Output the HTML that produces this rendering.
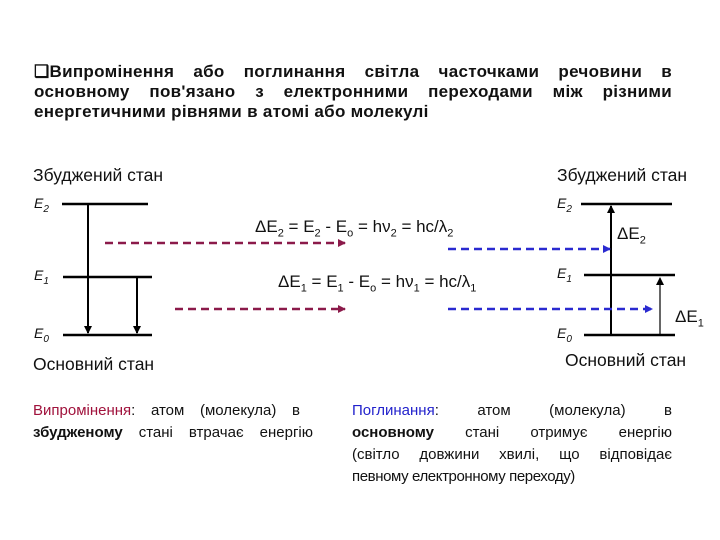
<!DOCTYPE html>
<html><head><meta charset="utf-8"><style>
body{margin:0;width:720px;height:540px;background:#fff;position:relative;overflow:hidden;font-family:"Liberation Sans",Arial,sans-serif;color:#111}
.a{position:absolute;white-space:nowrap}
.j{position:absolute;text-align:justify;text-align-last:justify;white-space:nowrap;overflow:visible}
.hd{font-weight:bold;font-size:17px;letter-spacing:0.3px;left:34px;width:638px;height:20px;line-height:20px}
.bt{font-size:15px;height:22px;line-height:22px}
.e{font-style:italic;font-size:14px}
.f{font-size:17px}
.f sub{font-size:11px}
</style></head><body>
<div class="j hd" style="top:62px">❑Випромінення або поглинання світла часточками речовини в</div>
<div class="j hd" style="top:82px">основному пов'язано з електронними переходами між різними</div>
<div class="a hd" style="top:102px;width:auto">енергетичними рівнями в атомі або молекулі</div>

<div class="a" style="left:33px;top:165px;font-size:17.5px">Збуджений стан</div>
<div class="a" style="left:557px;top:165px;font-size:17.5px">Збуджений стан</div>
<div class="a" style="left:33px;top:354px;font-size:17.5px">Основний стан</div>
<div class="a" style="left:565px;top:350px;font-size:17.5px">Основний стан</div>

<div class="a e" style="left:34px;top:195px">E<sub style="font-size:10px">2</sub></div>
<div class="a e" style="left:34px;top:267px">E<sub style="font-size:10px">1</sub></div>
<div class="a e" style="left:34px;top:325px">E<sub style="font-size:10px">0</sub></div>
<div class="a e" style="left:557px;top:195px">E<sub style="font-size:10px">2</sub></div>
<div class="a e" style="left:557px;top:265px">E<sub style="font-size:10px">1</sub></div>
<div class="a e" style="left:557px;top:325px">E<sub style="font-size:10px">0</sub></div>

<div class="a f" style="left:255px;top:217px">ΔE<sub>2</sub> = E<sub>2</sub> - E<sub>o</sub> = hν<sub>2</sub> = hc/λ<sub>2</sub></div>
<div class="a f" style="left:278px;top:272px">ΔE<sub>1</sub> = E<sub>1</sub> - E<sub>o</sub> = hν<sub>1</sub> = hc/λ<sub>1</sub></div>
<div class="a" style="left:617px;top:224px;font-size:17px">ΔE<sub style="font-size:11px">2</sub></div>
<div class="a" style="left:675px;top:307px;font-size:17px">ΔE<sub style="font-size:11px">1</sub></div>

<svg class="a" style="left:0;top:0" width="720" height="540">
<defs>
<marker id="k" markerWidth="8" markerHeight="8" refX="7" refY="4" orient="auto" markerUnits="userSpaceOnUse"><path d="M0,0L8,4L0,8z" fill="#000"/></marker>
<marker id="r" markerWidth="8" markerHeight="8" refX="7" refY="4" orient="auto" markerUnits="userSpaceOnUse"><path d="M0,0L8,4L0,8z" fill="#8b1a4a"/></marker>
<marker id="b" markerWidth="8" markerHeight="8" refX="7" refY="4" orient="auto" markerUnits="userSpaceOnUse"><path d="M0,0L8,4L0,8z" fill="#2a2ad0"/></marker>
</defs>
<g stroke="#000" stroke-width="2.5">
<line x1="62" y1="204" x2="148" y2="204"/>
<line x1="63" y1="277" x2="152" y2="277"/>
<line x1="63" y1="335" x2="152" y2="335"/>
<line x1="581" y1="204" x2="672" y2="204"/>
<line x1="584" y1="275" x2="675" y2="275"/>
<line x1="584" y1="335" x2="675" y2="335"/>
</g>
<g stroke="#000" stroke-width="2">
<line x1="88" y1="204" x2="88" y2="333" marker-end="url(#k)"/>
<line x1="137" y1="277" x2="137" y2="333" marker-end="url(#k)"/>
<line x1="611" y1="335" x2="611" y2="206" marker-end="url(#k)"/>
</g>
<line x1="660" y1="335" x2="660" y2="278" stroke="#000" stroke-width="1.2" marker-end="url(#k)"/>
<g stroke-width="2.5" stroke-dasharray="8,5">
<line x1="105" y1="243" x2="345" y2="243" stroke="#8b1a4a" marker-end="url(#r)"/>
<line x1="175" y1="309" x2="345" y2="309" stroke="#8b1a4a" marker-end="url(#r)"/>
<line x1="448" y1="249" x2="610" y2="249" stroke="#2a2ad0" marker-end="url(#b)"/>
<line x1="448" y1="309" x2="652" y2="309" stroke="#2a2ad0" marker-end="url(#b)"/>
</g>
</svg>

<div class="j bt" style="left:33px;top:400px;width:267px"><span style="color:#a0123c">Випромінення</span>: атом (молекула) в</div>
<div class="j bt" style="left:33px;top:422px;width:280px"><b>збудженому</b> стані втрачає енергію</div>

<div class="j bt" style="left:352px;top:400px;width:320px"><span style="color:#2222cc">Поглинання</span>: атом (молекула) в</div>
<div class="j bt" style="left:352px;top:422px;width:320px"><b>основному</b> стані отримує енергію</div>
<div class="j bt" style="left:352px;top:444px;width:320px">(світло довжини хвилі, що відповідає</div>
<div class="a bt" style="left:352px;top:466px;letter-spacing:-0.4px">певному електронному переходу)</div>
</body></html>
